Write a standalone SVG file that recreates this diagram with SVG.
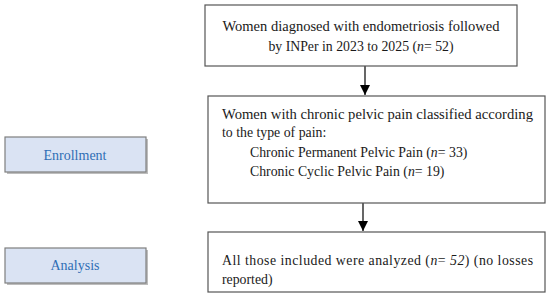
<svg xmlns="http://www.w3.org/2000/svg" width="550" height="298" viewBox="0 0 550 298">
<style>
.box{fill:#ffffff;stroke:#555555;stroke-width:1.2}
.shadow{fill:#bdbdbd}
.side{fill:#dae3f3;stroke:#7f7f7f;stroke-width:1.2}
.t{font-family:"Liberation Serif","DejaVu Serif",serif;font-size:13.8px;fill:#1a1a1a}
.s{font-family:"Liberation Serif","DejaVu Serif",serif;font-size:14px;fill:#2f6eb5;text-anchor:middle}
.c{text-anchor:middle}
.conn{stroke:#000000;stroke-width:1.2;fill:none}
</style>
<defs>
<marker id="ah" markerWidth="10" markerHeight="10" refX="10" refY="5" orient="auto" markerUnits="userSpaceOnUse" viewBox="0 0 10 10">
<path d="M0,0 L10,5 L0,10 Z" fill="#000"/>
</marker>
</defs>
<rect width="550" height="298" fill="#ffffff"/>
<g id="connectors">
<line class="conn" x1="365" y1="66" x2="365" y2="95" marker-end="url(#ah)"/>
<line class="conn" x1="363" y1="203" x2="363" y2="231" marker-end="url(#ah)"/>
</g>
<g id="enrollment">
<rect class="shadow" x="7" y="139" width="141" height="35"/>
<rect class="side" x="5" y="137" width="141" height="35"/>
<text class="s" x="75" y="160">Enrollment</text>
</g>
<g id="analysis">
<rect class="shadow" x="7" y="250" width="141" height="35"/>
<rect class="side" x="5" y="248" width="141" height="35"/>
<text class="s" x="75" y="270">Analysis</text>
</g>
<g id="box1">
<rect class="box" x="205" y="5" width="312" height="61"/>
<text class="t c" x="361" y="31" textLength="277" lengthAdjust="spacingAndGlyphs">Women diagnosed with endometriosis followed</text>
<text class="t c" x="361" y="51">by INPer in 2023 to 2025 (<tspan font-style="italic">n</tspan>= 52)</text>
</g>
<g id="box2">
<rect class="box" x="208" y="96" width="337" height="107"/>
<text class="t" x="222" y="119" textLength="311" lengthAdjust="spacingAndGlyphs">Women with chronic pelvic pain classified according</text>
<text class="t" x="222" y="137">to the type of pain:</text>
<text class="t" x="250" y="157">Chronic Permanent Pelvic Pain (<tspan font-style="italic">n</tspan>= 33)</text>
<text class="t" x="250" y="176">Chronic Cyclic Pelvic Pain (<tspan font-style="italic">n</tspan>= 19)</text>
</g>
<g id="box3">
<rect class="box" x="208" y="232" width="337" height="60"/>
<text class="t" x="222" y="265" textLength="311" lengthAdjust="spacing">All those included were analyzed (<tspan font-style="italic">n</tspan>= <tspan font-style="italic">52</tspan>) (no losses</text>
<text class="t" x="222" y="284">reported)</text>
</g>
</svg>
